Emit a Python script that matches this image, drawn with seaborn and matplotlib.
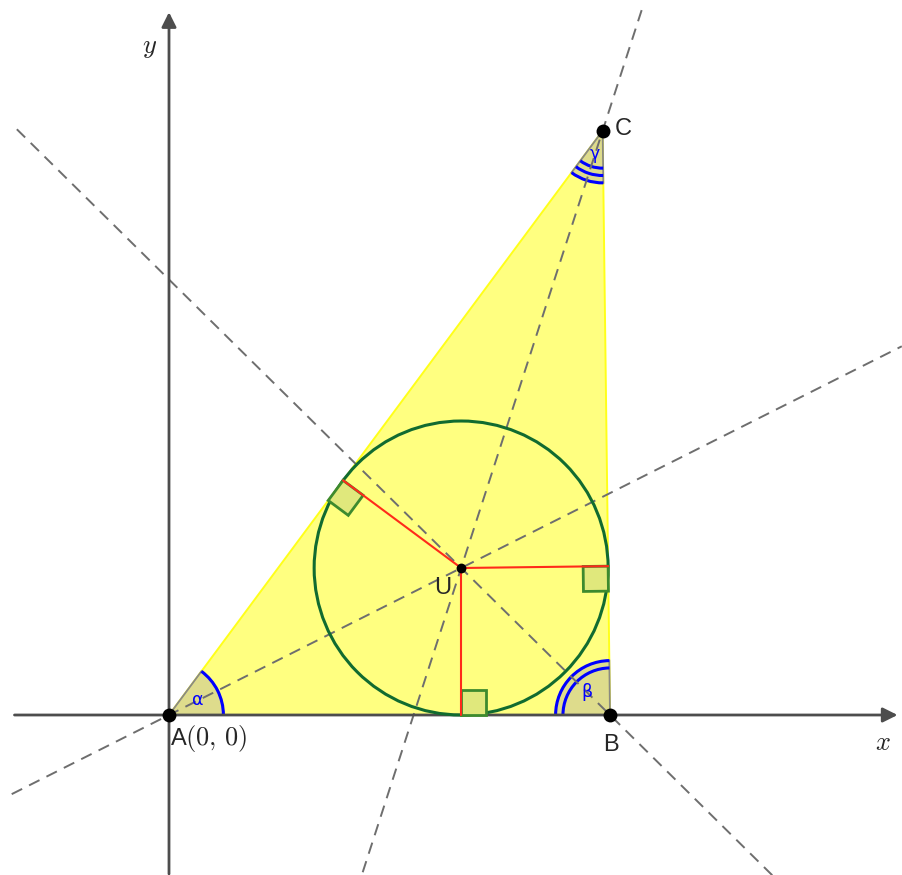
import numpy as np
import pandas as pd
import seaborn as sns
import matplotlib.pyplot as plt
from matplotlib.patches import Wedge, Arc, Circle, Polygon

# triangle vertices
vertex_labels = ["A", "B", "C"]
vertex_x = [0.0, 6.0, 5.9]
vertex_y = [0.0, 0.0, 7.95]

angle_labels = ["α", "β", "γ"]
arc_counts = [1, 2, 3]

sns.set_style("white")
plt.rcParams["mathtext.fontset"] = "cm"
plt.rcParams["font.family"] = ["Liberation Sans", "DejaVu Sans"]

P = np.column_stack([vertex_x, vertex_y])
A, B, C = P
a = np.linalg.norm(B - C)
b = np.linalg.norm(C - A)
c = np.linalg.norm(A - B)
U = (a * A + b * B + c * C) / (a + b + c)
area = 0.5 * abs((B - A)[0] * (C - A)[1] - (B - A)[1] * (C - A)[0])
r = area / ((a + b + c) / 2)

px = 73.5
fig = plt.figure(figsize=(9.02, 8.75), dpi=100)
ax = fig.add_axes([0, 0, 1, 1])
ax.set_xlim(-169 / px, (902 - 169) / px)
ax.set_ylim(-(875 - 715) / px, 715 / px)
ax.axis("off")

# triangle fill
ax.add_patch(Polygon(P, closed=True, facecolor="#ffff80", edgecolor="#ffff1a", lw=1.4, zorder=1))


def clip_line(p, d, xmin=-2.14, xmax=9.97, ymin=-2.18, ymax=9.59):
    ts = []
    for lo, hi, pi, di in [(xmin, xmax, p[0], d[0]), (ymin, ymax, p[1], d[1])]:
        if abs(di) > 1e-9:
            ts.append(sorted([(lo - pi) / di, (hi - pi) / di]))
    t0 = max(t[0] for t in ts)
    t1 = min(t[1] for t in ts)
    return p + t0 * d, p + t1 * d


# angle markers and bisectors
for i, (lab, n) in enumerate(zip(angle_labels, arc_counts)):
    V = P[i]
    Pn = P[(i + 1) % 3]
    Pp = P[(i + 2) % 3]
    a1 = np.degrees(np.arctan2(*(Pn - V)[::-1]))
    a2 = np.degrees(np.arctan2(*(Pp - V)[::-1]))
    t1, t2 = sorted([a1 % 360, a2 % 360])
    if t2 - t1 > 180:
        t1, t2 = t2, t1 + 360
    rad = 0.74 if i < 2 else 0.71
    ax.add_patch(Wedge(V, rad, t1, t2, facecolor="#dedc8c", edgecolor="#8a8a80", lw=1.3, zorder=2))
    for k in range(n):
        ax.add_patch(Arc(V, 2 * (rad - 0.1 * k), 2 * (rad - 0.1 * k), theta1=t1, theta2=t2,
                         color="#0000ff", lw=2.2, zorder=3))
    mid = np.radians((t1 + t2) / 2)
    dist = 0.44 if i < 2 else 0.34
    ax.text(V[0] + dist * np.cos(mid), V[1] + dist * np.sin(mid), lab, color="#0000ff",
            fontsize=12.5, ha="center", va="center", zorder=4, family=["DejaVu Sans"])
    d = (U - V) / np.linalg.norm(U - V)
    p0, p1 = clip_line(V, d)
    ax.plot([p0[0], p1[0]], [p0[1], p1[1]], color="#6e6e6e", lw=1.4, ls=(0, (6, 4)), zorder=3)

# axes with arrows
ax.annotate("", xy=(9.95, 0), xytext=(-2.14, 0),
            arrowprops=dict(arrowstyle="-|>", color="#4d4d4d", lw=2, mutation_scale=22), zorder=3)
ax.annotate("", xy=(0, 9.6), xytext=(0, -2.2),
            arrowprops=dict(arrowstyle="-|>", color="#4d4d4d", lw=2, mutation_scale=22), zorder=3)
ax.text(9.71, -0.38, r"$x$", fontsize=19, ha="center", va="center")
ax.text(-0.26, 9.07, r"$y$", fontsize=19, ha="center", va="center")

# incircle
ax.add_patch(Circle(U, r, fill=False, edgecolor="#116b30", lw=2.2, zorder=5))

# tangent points, right-angle squares, radii
s = 0.34
sides = [(A, B, B), (B, C, B), (C, A, A)]
for S0, S1, toward in sides:
    t = (S1 - S0) / np.linalg.norm(S1 - S0)
    F = S0 + np.dot(U - S0, t) * t
    nvec = (U - F) / np.linalg.norm(U - F)
    tdir = (toward - F) / np.linalg.norm(toward - F)
    sq = np.array([F, F + s * tdir, F + s * tdir + s * nvec, F + s * nvec])
    ax.add_patch(Polygon(sq, closed=True, facecolor="#e0e87c", edgecolor="#3d8a2e", lw=2, zorder=6))
    seg = pd.DataFrame({"x": [U[0], F[0]], "y": [U[1], F[1]]})
    sns.lineplot(data=seg, x="x", y="y", sort=False, estimator=None, color="#ff2a1a",
                 lw=1.5, ax=ax, zorder=7)

# points
pts = pd.DataFrame({"x": vertex_x, "y": vertex_y})
sns.scatterplot(data=pts, x="x", y="y", color="black", s=100, linewidth=0, ax=ax, zorder=8)
ax.scatter([U[0]], [U[1]], color="black", s=50, linewidth=0, zorder=8)

ax.text(0.03, -0.41, "A", fontsize=17, ha="left", va="baseline", zorder=9)
ax.text(0.22, -0.41, r"$(0,\,0)$", fontsize=19, ha="left", va="baseline", zorder=9)
ax.text(6.01, -0.41, "B", fontsize=17, ha="center", va="center", zorder=9)
ax.text(6.07, 7.97, "C", fontsize=17, ha="left", va="center", zorder=9)
ax.text(3.73, 1.73, "U", fontsize=17, ha="center", va="center", zorder=9)

ax.set_xlim(-169 / px, (902 - 169) / px)
ax.set_ylim(-(875 - 715) / px, 715 / px)
ax.axis("off")
fig.savefig("out.png", dpi=100)
